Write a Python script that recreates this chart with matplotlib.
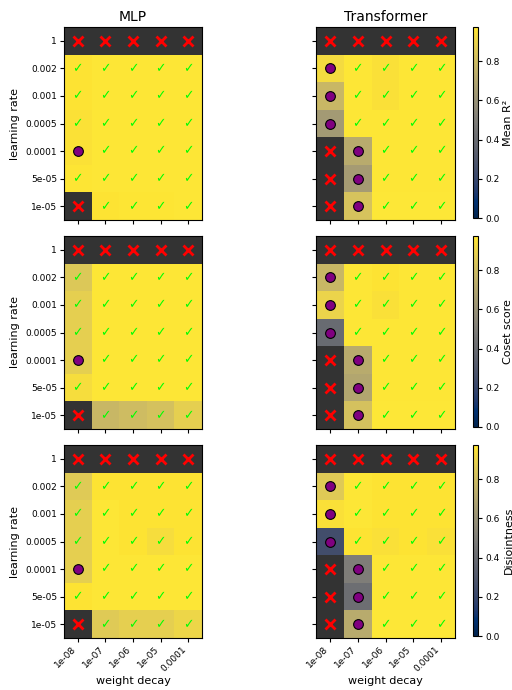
import numpy as np
import matplotlib
matplotlib.use("Agg")
import matplotlib.pyplot as plt
from matplotlib.colors import Normalize
import copy

lrs = ["1", "0.002", "0.001", "0.0005", "0.0001", "5e-05", "1e-05"]
wds = ["1e-08", "1e-07", "1e-06", "1e-05", "0.0001"]
models = ["MLP", "Transformer"]
metrics = ["Mean R²", "Coset score", "Disjointness"]
nan = np.nan

# status: 0 = failed (x), 1 = partial (circle), 2 = success (check)
status_mlp = np.array([
    [0, 0, 0, 0, 0],
    [2, 2, 2, 2, 2],
    [2, 2, 2, 2, 2],
    [2, 2, 2, 2, 2],
    [1, 2, 2, 2, 2],
    [2, 2, 2, 2, 2],
    [0, 2, 2, 2, 2],
])
status_tf = np.array([
    [0, 0, 0, 0, 0],
    [1, 2, 2, 2, 2],
    [1, 2, 2, 2, 2],
    [1, 2, 2, 2, 2],
    [0, 1, 2, 2, 2],
    [0, 1, 2, 2, 2],
    [0, 1, 2, 2, 2],
])

r2_mlp = np.array([
    [nan, nan, nan, nan, nan],
    [0.96, 0.97, 0.97, 0.97, 0.97],
    [0.96, 0.97, 0.97, 0.97, 0.97],
    [0.955, 0.97, 0.97, 0.97, 0.97],
    [0.955, 0.97, 0.97, 0.97, 0.97],
    [0.965, 0.97, 0.97, 0.97, 0.97],
    [nan, 0.96, 0.965, 0.965, 0.97],
])
r2_tf = np.array([
    [nan, nan, nan, nan, nan],
    [0.93, 0.97, 0.95, 0.97, 0.97],
    [0.78, 0.97, 0.95, 0.97, 0.97],
    [0.64, 0.97, 0.97, 0.97, 0.97],
    [nan, 0.72, 0.97, 0.97, 0.97],
    [nan, 0.65, 0.97, 0.97, 0.97],
    [nan, 0.83, 0.975, 0.975, 0.975],
])
coset_mlp = np.array([
    [nan, nan, nan, nan, nan],
    [0.85, 0.97, 0.97, 0.97, 0.97],
    [0.88, 0.97, 0.97, 0.97, 0.97],
    [0.88, 0.97, 0.97, 0.97, 0.97],
    [0.88, 0.97, 0.97, 0.97, 0.97],
    [0.94, 0.97, 0.97, 0.97, 0.97],
    [nan, 0.78, 0.80, 0.82, 0.88],
])
coset_tf = np.array([
    [nan, nan, nan, nan, nan],
    [0.78, 0.97, 0.96, 0.97, 0.97],
    [0.90, 0.97, 0.95, 0.97, 0.97],
    [0.40, 0.97, 0.97, 0.97, 0.97],
    [nan, 0.72, 0.97, 0.97, 0.97],
    [nan, 0.70, 0.97, 0.97, 0.97],
    [nan, 0.82, 0.975, 0.975, 0.975],
])
dis_mlp = np.array([
    [nan, nan, nan, nan, nan],
    [0.86, 0.96, 0.96, 0.96, 0.96],
    [0.88, 0.97, 0.96, 0.96, 0.96],
    [0.88, 0.97, 0.96, 0.94, 0.96],
    [0.88, 0.97, 0.97, 0.97, 0.97],
    [0.96, 0.97, 0.97, 0.97, 0.97],
    [nan, 0.86, 0.88, 0.88, 0.91],
])
dis_tf = np.array([
    [nan, nan, nan, nan, nan],
    [0.86, 0.97, 0.96, 0.96, 0.96],
    [0.95, 0.97, 0.96, 0.96, 0.96],
    [0.24, 0.96, 0.95, 0.96, 0.95],
    [nan, 0.50, 0.97, 0.97, 0.97],
    [nan, 0.42, 0.97, 0.97, 0.97],
    [nan, 0.72, 0.975, 0.975, 0.975],
])

data = [[r2_mlp, r2_tf], [coset_mlp, coset_tf], [dis_mlp, dis_tf]]
statuses = [status_mlp, status_tf]

W, H = 512, 690
fig = plt.figure(figsize=(W / 100, H / 100), dpi=100)

def px_axes(x0, y0, x1, y1):
    return fig.add_axes([x0 / W, 1 - y1 / H, (x1 - x0) / W, (y1 - y0) / H])

row_y = [(27, 220), (236, 429), (445, 638)]
col_x = [(64, 202), (316, 455)]
cbar_x = (473, 478)

cmap = copy.copy(plt.get_cmap("cividis"))
cmap.set_bad("#333333")

for r in range(3):
    vmax = np.nanmax(np.concatenate([data[r][0].ravel(), data[r][1].ravel()]))
    norm = Normalize(vmin=0, vmax=vmax)
    im = None
    for c in range(2):
        ax = px_axes(col_x[c][0], row_y[r][0], col_x[c][1], row_y[r][1])
        arr = np.ma.masked_invalid(data[r][c])
        im = ax.imshow(arr, cmap=cmap, norm=norm, aspect="auto")
        st = statuses[c]
        for i in range(st.shape[0]):
            for j in range(st.shape[1]):
                if st[i, j] == 0:
                    ax.plot(j, i, marker="x", color="red", markersize=6.5,
                            markeredgewidth=2)
                elif st[i, j] == 1:
                    ax.plot(j, i, marker="o", color="purple", markersize=7,
                            markeredgecolor="black", markeredgewidth=0.8)
                else:
                    ax.text(j, i, "✓", color="lime", fontsize=9,
                            ha="center", va="center")
        ax.set_xticks(range(len(wds)))
        ax.set_yticks(range(len(lrs)))
        if c == 0:
            ax.set_yticklabels(lrs, fontsize=6.5)
            ax.set_ylabel("learning rate", fontsize=8)
        else:
            ax.set_yticklabels([])
        if r == 2:
            ax.set_xticklabels(wds, rotation=45, ha="right", fontsize=6.5)
            ax.set_xlabel("weight decay", fontsize=8, labelpad=2)
        else:
            ax.set_xticklabels([])
        if r == 0:
            ax.set_title(models[c], fontsize=10, pad=4)
        ax.tick_params(length=3, width=0.8, pad=2)
    cax = px_axes(cbar_x[0], row_y[r][0], cbar_x[1], row_y[r][1] - 2)
    cb = fig.colorbar(im, cax=cax)
    cb.set_ticks([0.0, 0.2, 0.4, 0.6, 0.8])
    cb.ax.tick_params(labelsize=6.5, length=3, width=0.8, pad=2)
    cb.set_label(metrics[r], fontsize=8, labelpad=3)

fig.savefig("out.png", dpi=100)
